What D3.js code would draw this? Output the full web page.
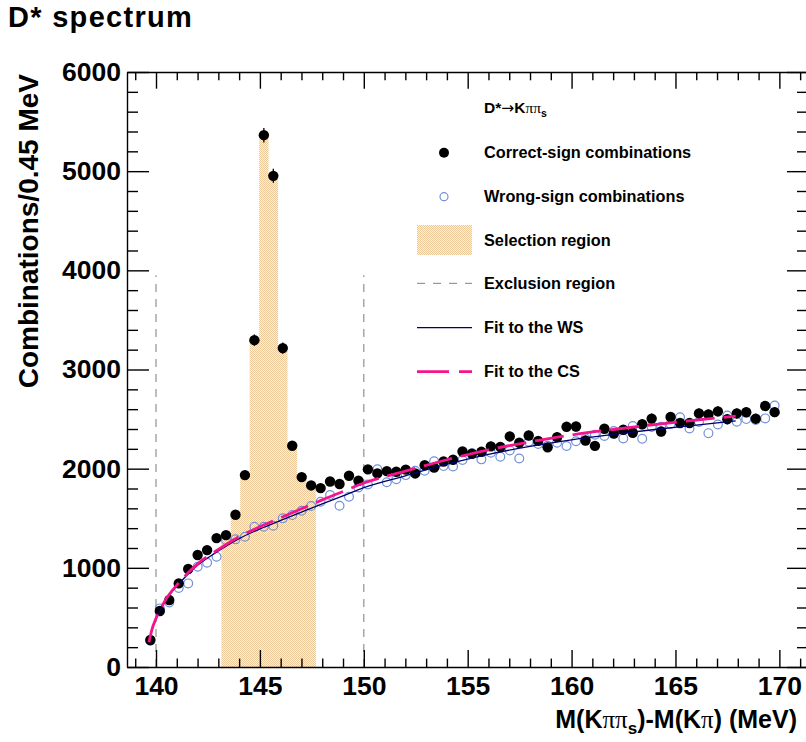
<!DOCTYPE html>
<html><head><meta charset="utf-8">
<script src="https://cdn.jsdelivr.net/npm/d3@7"></script>
<style>
html,body{margin:0;padding:0;background:#fff;}
svg{display:block;font-family:"Liberation Sans",Arial,Helvetica,sans-serif;}
</style>
</head><body>
<svg id="chart" width="806" height="742"></svg>
<script>
// ---- histogram binning (67 bins of ~0.45 MeV) ----
const binLow = 139.5;
const binHigh = 170.0;
const nBins = 67;

// correct-sign combinations per bin
const csCounts = [272,565,675,843,988,1129,1179,1300,1330,1535,
  1935,3296,5363,4953,3216,2231,1915,1831,1804,1871,
  1845,1929,1878,1993,1952,1975,1969,1990,1952,2035,
  2010,2072,2090,2173,2150,2170,2225,2218,2325,2261,
  2334,2280,2215,2318,2422,2425,2284,2230,2402,2355,
  2392,2362,2448,2505,2375,2521,2461,2461,2557,2547,
  2578,2499,2557,2569,2504,2632,2570];

// wrong-sign combinations per bin
const wsCounts = [265,591,650,796,843,1011,1052,1112,1280,1287,
  1314,1414,1414,1424,1499,1532,1576,1623,1667,1734,
  1626,1717,1811,1840,1993,1863,1894,1935,1979,1979,
  2075,2026,2022,2087,2155,2094,2160,2120,2184,2103,
  2271,2248,2231,2261,2228,2276,2305,2342,2330,2380,
  2305,2430,2302,2420,2422,2450,2518,2406,2470,2358,
  2446,2536,2473,2500,2490,2507,2636];

// selection region: first and last bin index
const selectionBins = [8, 17];
// exclusion region boundaries
const exclusionX = [140, 150];
const exclusionTop = 3950;

// fit curves
const fitX  = [139.66,139.8,140.0,140.2,140.5,141.0,141.5,142.0,143.0,144.0,145.0,146.0,147.0,148.0,149.0,150.0,152.0,154.0,156.0,158.0,160.0,162.0,164.0,166.0,167.9];
const fitWS = [248,370,485,572,682,815,928,1025,1170,1295,1392,1478,1562,1645,1725,1808,1928,2045,2145,2225,2290,2345,2395,2440,2482];
const fitCS = [250,375,490,578,690,825,940,1040,1185,1315,1415,1505,1595,1685,1770,1855,1975,2090,2190,2270,2340,2395,2445,2490,2530];

// axis ticks
const xMajorTicks = [140,145,150,155,160,165,170];
const xMinorTicks = [139,141,142,143,144,146,147,148,149,151,152,153,154,156,157,158,159,161,162,163,164,166,167,168,169,171];
const yMajorTicks = [0,1000,2000,3000,4000,5000,6000];
const yMinorTicks = [200,400,600,800,1200,1400,1600,1800,2200,2400,2600,2800,3200,3400,3600,3800,4200,4400,4600,4800,5200,5400,5600,5800];

const legendLabels = ["Correct-sign combinations","Wrong-sign combinations","Selection region","Exclusion region","Fit to the WS","Fit to the CS"];

// ---- drawing ----
const svg = d3.select("#chart");
const x = d3.scaleLinear().domain([138.604, 171.33]).range([127, 807]);
const y = d3.scaleLinear().domain([0, 6000]).range([667, 72]);

const binW = (binHigh - binLow) / nBins;
const centers = d3.range(nBins).map(i => binLow + (i + 0.5) * binW);

const defs = svg.append("defs");
const pat = defs.append("pattern").attr("id","selpat").attr("width",2).attr("height",2).attr("patternUnits","userSpaceOnUse");
pat.append("rect").attr("width",2).attr("height",2).attr("fill","#fdf4e8");
pat.append("rect").attr("width",1).attr("height",1).attr("fill","#ecc898");
pat.append("rect").attr("x",1).attr("y",1).attr("width",1).attr("height",1).attr("fill","#ecc898");

// selection region histogram
const selData = [];
for (let i = selectionBins[0]; i <= selectionBins[1]; i++) selData.push({e: binLow + i*binW, v: csCounts[i]});
selData.push({e: binLow + (selectionBins[1]+1)*binW, v: csCounts[selectionBins[1]]});
svg.append("path").datum(selData)
  .attr("d", d3.area().curve(d3.curveStepAfter).x(d => x(d.e)).y0(y(0)).y1(d => y(d.v)))
  .attr("fill","url(#selpat)");

// exclusion lines
svg.selectAll("line.excl").data(exclusionX).enter().append("line")
  .attr("x1", d => x(d)).attr("x2", d => x(d))
  .attr("y1", y(0)).attr("y2", y(exclusionTop))
  .attr("stroke","#9a9a9a").attr("stroke-width",1.3).attr("stroke-dasharray","8,7");

// axes
function styleAxis(g, fs) {
  g.selectAll("path.domain").attr("stroke","#000").attr("stroke-width",1.4);
  g.selectAll(".tick line").attr("stroke","#000").attr("stroke-width",1.4);
  g.selectAll(".tick text").attr("fill","#000").attr("font-weight","bold").attr("font-size",fs)
    .attr("font-family","'Liberation Sans',Arial,sans-serif");
}
const fmt = d3.format("d");
const gB = svg.append("g").attr("transform",`translate(0,${y(0)})`)
  .call(d3.axisBottom(x).tickValues(xMajorTicks).tickSizeInner(-17).tickSizeOuter(0).tickPadding(9.5).tickFormat(fmt));
styleAxis(gB, 26.5);
const gBm = svg.append("g").attr("transform",`translate(0,${y(0)})`)
  .call(d3.axisBottom(x).tickValues(xMinorTicks).tickSizeInner(-8.4).tickSizeOuter(0).tickFormat(""));
gBm.select("path.domain").remove(); styleAxis(gBm, 0);

const gT = svg.append("g").attr("transform",`translate(0,${y(6000)})`)
  .call(d3.axisTop(x).tickValues(xMajorTicks).tickSizeInner(-16.7).tickSizeOuter(0).tickFormat(""));
styleAxis(gT, 0);
const gTm = svg.append("g").attr("transform",`translate(0,${y(6000)})`)
  .call(d3.axisTop(x).tickValues(xMinorTicks).tickSizeInner(-8.3).tickSizeOuter(0).tickFormat(""));
gTm.select("path.domain").remove(); styleAxis(gTm, 0);

const gL = svg.append("g").attr("transform",`translate(${x.range()[0]},0)`)
  .call(d3.axisLeft(y).tickValues(yMajorTicks).tickSizeInner(-22).tickSizeOuter(0).tickPadding(6).tickFormat(fmt));
styleAxis(gL, 26.5);
const gLm = svg.append("g").attr("transform",`translate(${x.range()[0]},0)`)
  .call(d3.axisLeft(y).tickValues(yMinorTicks).tickSizeInner(-11).tickSizeOuter(0).tickFormat(""));
gLm.select("path.domain").remove(); styleAxis(gLm, 0);

const gR = svg.append("g").attr("transform",`translate(${x.range()[1]},0)`)
  .call(d3.axisRight(y).tickValues(yMajorTicks).tickSizeInner(-20).tickSizeOuter(0).tickFormat(""));
styleAxis(gR, 0);
const gRm = svg.append("g").attr("transform",`translate(${x.range()[1]},0)`)
  .call(d3.axisRight(y).tickValues(yMinorTicks).tickSizeInner(-10).tickSizeOuter(0).tickFormat(""));
gRm.select("path.domain").remove(); styleAxis(gRm, 0);

// WS points
svg.append("g").selectAll("circle").data(wsCounts).enter().append("circle")
  .attr("cx", (d,i) => x(centers[i])).attr("cy", d => y(d)).attr("r", 4.4)
  .attr("fill","none").attr("stroke","#7090d8").attr("stroke-width",1.2);

// CS points with error bars
const csG = svg.append("g");
csG.selectAll("line").data(csCounts).enter().append("line")
  .attr("x1",(d,i)=>x(centers[i])).attr("x2",(d,i)=>x(centers[i]))
  .attr("y1", d => y(d - Math.sqrt(d))).attr("y2", d => y(d + Math.sqrt(d)))
  .attr("stroke","#000").attr("stroke-width",1.3);
csG.selectAll("circle").data(csCounts).enter().append("circle")
  .attr("cx", (d,i) => x(centers[i])).attr("cy", d => y(d)).attr("r", 5.2).attr("fill","#000");

// fits
const fitLine = d3.line().curve(d3.curveMonotoneX).x((d,i)=>x(fitX[i])).y(d=>y(d));
svg.append("path").datum(fitWS).attr("d", fitLine).attr("fill","none").attr("stroke","#00006e").attr("stroke-width",1.3);
svg.append("path").datum(fitCS).attr("d", fitLine).attr("fill","none").attr("stroke","#f5148c").attr("stroke-width",2.8).attr("stroke-dasharray","29,9");

// title
svg.append("text").attr("x",8).attr("y",27).attr("font-size",29).attr("font-weight","bold")
  .attr("letter-spacing",1.3).text("D* spectrum");

// axis titles
const xt = svg.append("text").attr("x",797).attr("y",728).attr("text-anchor","end")
  .attr("font-size",25).attr("font-weight","bold");
xt.append("tspan").text("M(K");
xt.append("tspan").attr("font-family","'Liberation Serif',serif").attr("font-weight","normal").text("ππ");
xt.append("tspan").attr("font-size",17).attr("dy",6).text("s");
xt.append("tspan").attr("dy",-6).text(")-M(K");
xt.append("tspan").attr("font-family","'Liberation Serif',serif").attr("font-weight","normal").text("π");
xt.append("tspan").text(") (MeV)");

svg.append("text").attr("transform","translate(38,74) rotate(-90)").attr("text-anchor","end")
  .attr("font-size",28).attr("font-weight","bold").text("Combinations/0.45 MeV");

// legend
const lg = svg.append("g");
const hdr = lg.append("text").attr("x",484).attr("y",113).attr("font-size",15.5).attr("font-weight","bold");
hdr.append("tspan").text("D*");
hdr.append("tspan").attr("font-family","'DejaVu Sans',sans-serif").attr("font-weight","normal").text("→");
hdr.append("tspan").text("K");
hdr.append("tspan").attr("font-family","'Liberation Serif',serif").attr("font-weight","normal").text("ππ");
hdr.append("tspan").attr("font-size",10.5).attr("dy",4).text("s");

const rowY = [152.7,196.7,240,283.3,327.7,371.7];
lg.selectAll("text.lab").data(legendLabels).enter().append("text").attr("class","lab")
  .attr("x",484).attr("y",(d,i)=>rowY[i]+5.5).attr("font-size",16.3).attr("font-weight","bold").text(d=>d);
lg.append("circle").attr("cx",444).attr("cy",rowY[0]).attr("r",5).attr("fill","#000");
lg.append("circle").attr("cx",444).attr("cy",rowY[1]).attr("r",4).attr("fill","none").attr("stroke","#7090d8").attr("stroke-width",1.2);
lg.append("rect").attr("x",417).attr("y",rowY[2]-15).attr("width",55).attr("height",30).attr("fill","url(#selpat)");
lg.append("line").attr("x1",417).attr("x2",472).attr("y1",rowY[3]).attr("y2",rowY[3])
  .attr("stroke","#9a9a9a").attr("stroke-width",1.3).attr("stroke-dasharray","8,8");
lg.append("line").attr("x1",417).attr("x2",472).attr("y1",rowY[4]).attr("y2",rowY[4])
  .attr("stroke","#00006e").attr("stroke-width",1.3);
lg.append("line").attr("x1",417).attr("x2",472).attr("y1",rowY[5]).attr("y2",rowY[5])
  .attr("stroke","#f5148c").attr("stroke-width",2.8).attr("stroke-dasharray","32,10");
</script>
</body></html>
